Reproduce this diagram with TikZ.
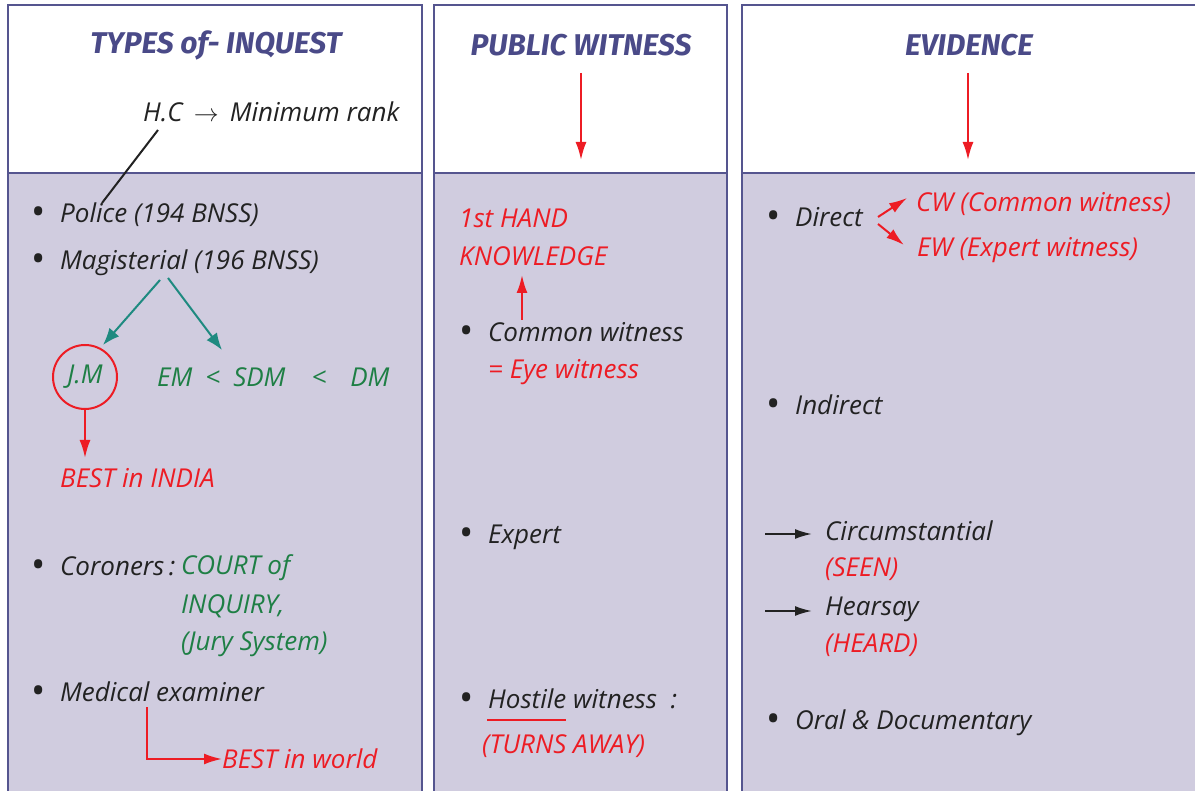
\documentclass[tikz,border=0pt]{standalone}
\usepackage{fontspec}
\setmainfont{Open Sans}
\newfontfamily\headfont{Fira Sans}
\usetikzlibrary{positioning,arrows.meta}

\definecolor{frameblue}{HTML}{55558F}
\definecolor{lavender}{HTML}{D0CCDF}
\definecolor{headblue}{HTML}{4A4A88}
\definecolor{penred}{HTML}{ED1C24}
\definecolor{pengreen}{HTML}{1E7F45}
\definecolor{penteal}{HTML}{1E8A80}
\definecolor{penblack}{HTML}{222222}

\newcommand{\bul}{\makebox[30pt][l]{\raisebox{-3pt}{\scalebox{1.5}{\textbullet}}}}

\tikzset{
  colbox/.style={draw=frameblue,line width=2.5pt},
  headtxt/.style={text=headblue,font=\headfont\bfseries\itshape\fontsize{30}{34}\selectfont},
  txt/.style={anchor=west,inner sep=0pt,text=penblack,font=\itshape\fontsize{26}{31}\selectfont},
  redtxt/.style={txt,text=penred},
  greentxt/.style={txt,text=pengreen},
  redarr/.style={draw=penred,line width=2pt,-{Latex[length=18pt,width=11pt]}},
  tealarr/.style={draw=penteal,line width=2pt,-{Latex[length=17pt,width=13pt]}},
  blackarr/.style={draw=penblack,line width=2pt,-{Latex[length=17pt,width=10pt]}},
}

\begin{document}
\begin{tikzpicture}[x=1pt,y=-1pt]
\useasboundingbox (0,0) rectangle (1195,791);

% three columns
\fill[lavender] (8,173) rectangle (422,800);
\fill[lavender] (434,173) rectangle (727,800);
\fill[lavender] (742,173) rectangle (1210,800);
\draw[colbox] (8,800) -- (8,5) -- (422,5) -- (422,800) (8,173) -- (422,173);
\draw[colbox] (434,800) -- (434,5) -- (727,5) -- (727,800) (434,173) -- (727,173);
\draw[colbox] (742,800) -- (742,5) -- (1210,5) (742,173) -- (1210,173);

% headings
\node[headtxt] (types) at (216,45) {TYPES of- INQUEST};
\node[headtxt] (public) at (581,45) {PUBLIC WITNESS};
\node[headtxt] (evid) at (969,45) {EVIDENCE};

% types of inquest
\node[txt] (hc) at (143,112) {H.C \,$\rightarrow$\, Minimum rank};
\node[txt] (police) at (30,215) {\bul Police (194 BNSS)};
\node[txt] (magis) at (30,263) {\bul Magisterial (196 BNSS)};
\node[greentxt,anchor=center,circle,draw=penred,line width=2pt,minimum size=64pt] (jm) at (85,377) {J.M};
\node[greentxt] (em) at (157,377) {EM\hspace{13pt}<\hspace{13pt}SDM\hspace{26pt}<\hspace{24pt}DM};
\node[redtxt] (bestin) at (60,478) {BEST in INDIA};
\node[txt] (coron) at (30,568) {\bul Coroners\,:};
\node[greentxt] (court) at (181,568) {COURT of};
\node[greentxt] (inq) at (181,606) {INQUIRY,};
\node[greentxt] (jury) at (181,644) {(Jury System)};
\node[txt] (medic) at (30,693) {\bul Medical examiner};
\node[redtxt] (bestw) at (222,759) {BEST in world};

\coordinate (hcfoot) at (158,130);
\coordinate (polhead) at (102,203);
\draw[penblack,line width=2pt] (hcfoot) -- (polhead);
\draw[tealarr] (160,280) -- (103,345);
\draw[tealarr] (168,278) -- (222,350);
\draw[redarr] (jm.south) -- (85,458);
\draw[redarr] (147,707) |- (bestw.west);

% public witness
\coordinate (pwtop) at (581,73);
\draw[redarr] (pwtop) -- (581,160);
\node[redtxt] (first) at (459,218) {1st HAND};
\node[redtxt] (know) at (459,256) {KNOWLEDGE};
\node[txt] (common) at (458,333) {\bul Common witness};
\node[redtxt] (eye) at (488,372) {= Eye witness};
\node[txt] (expert) at (458,537) {\bul Expert};
\node[txt] (hostile) at (458,700) {\bul Hostile witness \ :};
\node[redtxt] (turns) at (482,746) {(TURNS AWAY)};
\draw[redarr] (522,320) -- (522,275);
\draw[penred,line width=1.5pt] (487,720) -- (566,720);

% evidence
\coordinate (evtop) at (968,73);
\draw[redarr] (evtop) -- (968,160);
\node[txt] (direct) at (765,218) {\bul Direct};
\node[redtxt] (cw) at (916,204) {CW (Common witness)};
\node[redtxt] (ew) at (917,250) {EW (Expert witness)};
\draw[redarr] (878,217) -- (907,198);
\draw[redarr] (878,224) -- (904,245);
\node[txt] (indir) at (765,406) {\bul Indirect};
\node[txt] (circ) at (825,531) {Circumstantial};
\node[redtxt] (seen) at (825,569) {(SEEN)};
\node[txt] (hear) at (825,609) {Hearsay};
\node[redtxt] (heard) at (825,645) {(HEARD)};
\node[txt] (oral) at (765,723) {\bul Oral \& Documentary};
\draw[blackarr] (765,534) -- (812,534);
\draw[blackarr] (765,611) -- (812,611);
\end{tikzpicture}
\end{document}
